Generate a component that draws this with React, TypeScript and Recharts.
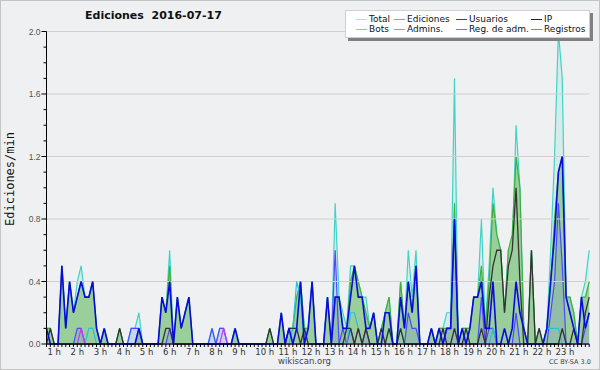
import { Area, ComposedChart, Line, ReferenceLine, XAxis, YAxis } from "recharts"

// 10-minute slots, 142 points; "1 h" label sits on the first slot
const hourLabels = [
  "1 h", "2 h", "3 h", "4 h", "5 h", "6 h", "7 h", "8 h", "9 h", "10 h", "11 h", "12 h",
  "13 h", "14 h", "15 h", "16 h", "17 h", "18 h", "19 h", "20 h", "21 h", "22 h", "23 h",
]
const yTicks = [0, 0.1, 0.2, 0.3, 0.4, 0.5, 0.6, 0.7, 0.8, 0.9, 1, 1.1, 1.2, 1.3, 1.4, 1.5, 1.6, 1.7, 1.8, 1.9, 2]
const gridValues = [0.4, 0.8, 1.2, 1.6, 2]

const total = [
  0.1, 0.1, 0, 0, 0.5, 0.1, 0.4, 0.2, 0.4, 0.5, 0.3, 0.3,
  0.4, 0.1, 0, 0.1, 0, 0, 0, 0.1, 0, 0, 0.1, 0.1,
  0.2, 0, 0, 0, 0, 0, 0.3, 0.2, 0.6, 0, 0.3, 0.1,
  0.2, 0.3, 0, 0, 0, 0, 0, 0.1, 0, 0.1, 0.1, 0,
  0, 0.1, 0, 0, 0, 0, 0, 0, 0, 0, 0.1, 0,
  0, 0.2, 0, 0.1, 0.1, 0.3, 0.4, 0.1, 0.1, 0.4, 0, 0,
  0, 0.3, 0, 0.9, 0.3, 0.2, 0.1, 0.5, 0.5, 0.4, 0.3, 0.3,
  0.1, 0.2, 0, 0.1, 0.2, 0.3, 0, 0, 0.4, 0.1, 0.6, 0.3,
  0.6, 0, 0, 0, 0.1, 0, 0.1, 0.1, 0.2, 0.2, 1.7, 0,
  0.1, 0.1, 0.1, 0.3, 0.3, 0.8, 0.1, 0.5, 1.0, 0.7, 0.6, 0.2,
  0.6, 0.6, 1.4, 1.0, 0.1, 0, 0.6, 0, 0.1, 0, 0.1, 0.6,
  1.2, 2.0, 1.7, 0.3, 0.3, 0.2, 0, 0.3, 0.4, 0.6,
]
const ediciones = [
  0.1, 0.1, 0, 0, 0.5, 0.1, 0.4, 0.2, 0.3, 0.4, 0.3, 0.3,
  0.4, 0.1, 0, 0.1, 0, 0, 0, 0.1, 0, 0, 0, 0,
  0.1, 0, 0, 0, 0, 0, 0.3, 0.2, 0.5, 0, 0.3, 0.1,
  0.2, 0.3, 0, 0, 0, 0, 0, 0, 0, 0, 0, 0,
  0, 0.1, 0, 0, 0, 0, 0, 0, 0, 0, 0.1, 0,
  0, 0.2, 0, 0.1, 0.1, 0.3, 0.4, 0.1, 0.1, 0.4, 0, 0,
  0, 0.3, 0, 0.3, 0.3, 0.1, 0.1, 0.4, 0.5, 0.4, 0.3, 0.2,
  0.1, 0.2, 0, 0.1, 0.2, 0.3, 0, 0, 0.4, 0.1, 0.4, 0.2,
  0.5, 0, 0, 0, 0.1, 0, 0.1, 0.1, 0.1, 0.1, 0.9, 0,
  0.1, 0.1, 0.1, 0.3, 0.3, 0.5, 0.1, 0.4, 0.9, 0.7, 0.6, 0.2,
  0.6, 0.7, 1.2, 1.0, 0.1, 0, 0.6, 0, 0.1, 0, 0.1, 0.4,
  0.8, 1.1, 1.2, 0.3, 0.3, 0.2, 0, 0.3, 0.3, 0.4,
]
const usuarios = [
  0.1, 0, 0, 0, 0.5, 0.1, 0.4, 0.2, 0.3, 0.4, 0.3, 0.3,
  0.4, 0.1, 0, 0.1, 0, 0, 0, 0, 0, 0, 0, 0,
  0.1, 0, 0, 0, 0, 0, 0.3, 0.2, 0.4, 0, 0.3, 0.1,
  0.2, 0.3, 0, 0, 0, 0, 0, 0, 0, 0, 0, 0,
  0, 0.1, 0, 0, 0, 0, 0, 0, 0, 0, 0, 0,
  0, 0.2, 0, 0.1, 0, 0.1, 0.4, 0, 0.1, 0.4, 0, 0,
  0, 0.3, 0, 0.3, 0.3, 0.1, 0.1, 0.3, 0.5, 0.3, 0.3, 0.1,
  0.1, 0.2, 0, 0, 0.2, 0.2, 0, 0, 0.3, 0.1, 0.4, 0.2,
  0.5, 0, 0, 0, 0.1, 0, 0.1, 0, 0.1, 0.1, 0.8, 0,
  0.1, 0, 0.1, 0.3, 0.3, 0.4, 0.1, 0.1, 0.4, 0, 0, 0.1,
  0, 0.1, 0.4, 0.2, 0.1, 0, 0, 0, 0, 0, 0.1, 0.4,
  0.7, 1.1, 1.2, 0.3, 0.2, 0.1, 0, 0.3, 0.1, 0.2,
]
const ip = [
  0, 0.1, 0, 0, 0, 0, 0, 0, 0, 0, 0, 0,
  0, 0, 0, 0, 0, 0, 0, 0.1, 0, 0, 0, 0,
  0, 0, 0, 0, 0, 0, 0, 0.1, 0.1, 0, 0, 0,
  0, 0, 0, 0, 0, 0, 0, 0, 0, 0, 0, 0,
  0, 0, 0, 0, 0, 0, 0, 0, 0, 0, 0.1, 0,
  0, 0, 0, 0.1, 0.1, 0.1, 0, 0.1, 0, 0, 0, 0,
  0, 0, 0, 0, 0, 0, 0.1, 0.1, 0, 0.1, 0, 0.1,
  0, 0, 0, 0.1, 0, 0.1, 0, 0, 0.1, 0, 0, 0,
  0, 0, 0, 0, 0, 0, 0, 0.1, 0, 0, 0.1, 0,
  0, 0.1, 0, 0, 0, 0.1, 0, 0.3, 0.5, 0.6, 0.6, 0.2,
  0.5, 0.6, 1.0, 0.4, 0, 0, 0.6, 0, 0.1, 0, 0, 0,
  0, 0, 0.1, 0, 0, 0.1, 0, 0, 0.2, 0.3,
]
const bots = [
  0, 0, 0, 0, 0, 0, 0, 0, 0, 0, 0, 0,
  0, 0, 0, 0, 0, 0, 0, 0, 0, 0, 0, 0,
  0, 0, 0, 0, 0, 0, 0, 0, 0, 0, 0, 0,
  0, 0, 0, 0, 0, 0, 0, 0, 0, 0, 0, 0,
  0, 0, 0, 0, 0, 0, 0, 0, 0, 0, 0, 0,
  0, 0, 0, 0, 0, 0, 0, 0, 0, 0, 0, 0,
  0, 0, 0, 0, 0, 0, 0, 0, 0, 0, 0, 0,
  0, 0, 0, 0, 0, 0, 0, 0, 0, 0, 0, 0,
  0, 0, 0, 0, 0, 0, 0, 0, 0, 0, 0, 0,
  0, 0, 0, 0, 0, 0, 0, 0, 0, 0, 0, 0,
  0, 0, 0, 0, 0, 0, 0, 0, 0, 0, 0, 0,
  0, 0, 0, 0, 0, 0, 0, 0, 0, 0,
]
const admins = [
  0, 0, 0, 0, 0, 0, 0, 0, 0, 0, 0, 0.1,
  0.1, 0, 0, 0, 0, 0, 0, 0, 0, 0, 0, 0,
  0, 0, 0, 0, 0, 0, 0, 0, 0, 0, 0, 0,
  0, 0, 0, 0, 0, 0, 0, 0, 0, 0, 0, 0,
  0, 0, 0, 0, 0, 0, 0, 0, 0, 0, 0, 0,
  0, 0, 0, 0, 0.1, 0.4, 0.3, 0, 0, 0, 0, 0,
  0, 0, 0, 0, 0, 0, 0, 0.2, 0.2, 0.1, 0, 0,
  0, 0, 0, 0, 0, 0.1, 0, 0, 0.1, 0, 0, 0,
  0, 0, 0, 0, 0, 0, 0, 0, 0, 0, 0, 0,
  0, 0, 0, 0, 0, 0, 0, 0, 0.1, 0, 0, 0,
  0, 0, 0, 0, 0, 0, 0, 0, 0, 0, 0.1, 0.1,
  0.1, 0.1, 0, 0, 0, 0, 0, 0, 0, 0,
]
const regAdm = [
  0, 0, 0, 0, 0, 0, 0, 0, 0, 0.1, 0, 0,
  0, 0, 0, 0, 0, 0, 0, 0, 0, 0, 0, 0,
  0, 0, 0, 0, 0, 0, 0, 0, 0, 0, 0, 0,
  0, 0, 0, 0, 0, 0, 0, 0, 0, 0, 0.1, 0,
  0, 0, 0, 0, 0, 0, 0, 0, 0, 0, 0, 0,
  0, 0, 0, 0, 0, 0, 0, 0, 0, 0, 0, 0,
  0, 0, 0, 0, 0, 0, 0, 0, 0, 0.1, 0, 0,
  0, 0, 0, 0, 0, 0, 0, 0, 0, 0, 0, 0,
  0, 0, 0, 0, 0, 0, 0, 0, 0, 0, 0, 0,
  0, 0, 0, 0, 0, 0, 0, 0, 0, 0, 0, 0,
  0, 0, 0, 0, 0, 0, 0, 0, 0, 0, 0, 0,
  0, 0, 0, 0, 0, 0, 0, 0, 0, 0,
]
const registros = [
  0, 0, 0, 0, 0, 0, 0, 0, 0.1, 0.1, 0, 0,
  0, 0, 0, 0, 0, 0, 0, 0, 0, 0, 0.1, 0.1,
  0.1, 0, 0, 0, 0, 0, 0, 0, 0.1, 0, 0, 0,
  0, 0, 0, 0, 0, 0, 0, 0.1, 0, 0.1, 0.1, 0,
  0, 0, 0, 0, 0, 0, 0, 0, 0, 0, 0, 0,
  0, 0, 0, 0, 0, 0, 0, 0, 0, 0, 0, 0,
  0, 0, 0, 0.6, 0, 0.1, 0, 0.1, 0, 0, 0, 0.1,
  0, 0, 0, 0, 0, 0, 0, 0, 0, 0, 0.2, 0.1,
  0.1, 0, 0, 0, 0, 0, 0, 0, 0.1, 0.1, 0.8, 0,
  0, 0, 0, 0, 0, 0.3, 0, 0.1, 0.1, 0, 0, 0,
  0, 0, 0.2, 0, 0, 0, 0, 0, 0, 0, 0, 0.2,
  0.4, 0.9, 0.5, 0, 0, 0, 0, 0, 0.1, 0.2,
]

const legendRows = [
  ["Total", "Ediciones", "Usuarios", "IP"],
  ["Bots", "Admins.", "Reg. de adm.", "Registros"],
]
const legendColors = [
  ["#9fe4de", "#6cc46c", "#3333ee", "#222222"],
  ["#ffaa33", "#33ccdd", "#cc44ee", "#7777ff"],
]

const data = total.map((t, i) => ({
  i,
  total: t,
  ediciones: ediciones[i],
  usuarios: usuarios[i],
  ip: ip[i],
  bots: bots[i],
  admins: admins[i],
  regAdm: regAdm[i],
  registros: registros[i],
}))

const xTicks = data.map((d) => d.i)
const font = "'DejaVu Sans', sans-serif"

function HourTick(props: { x?: number; y?: number; payload?: { value: number } }) {
  const { x = 0, y = 0, payload } = props
  const i = payload ? payload.value : 0
  const lbl = i % 6 === 0 ? hourLabels[i / 6] : null
  return (
    <g>
      <line x1={x} x2={x} y1={y} y2={y + 3} stroke="#000" />
      {lbl && (
        <text x={x + 1} y={y + 11} fontSize={8.5} fill="#333" fontFamily={font}>
          {lbl}
        </text>
      )}
    </g>
  )
}

function ValueTick(props: { x?: number; y?: number; payload?: { value: number } }) {
  const { x = 0, y = 0, payload } = props
  const v = payload ? payload.value : 0
  const major = Math.round(v * 10) % 4 === 0
  return (
    <g>
      <line x1={x - (major ? 5 : 3)} x2={x} y1={y} y2={y} stroke="#000" />
      {major && (
        <text x={x - 6} y={y + 3} textAnchor="end" fontSize={8.5} fill="#555" fontFamily="'Liberation Sans', sans-serif">
          {v.toFixed(1)}
        </text>
      )}
    </g>
  )
}

export default function App() {
  return (
    <div
      style={{
        position: "absolute",
        left: 0,
        top: 0,
        width: 600,
        height: 370,
        boxSizing: "border-box",
        border: "1px solid #c4c4c4",
        background: "#eff0f1",
        fontFamily: font,
      }}
    >
      <div style={{ position: "absolute", left: 0, top: 0 }}>
        <ComposedChart width={598} height={368} data={data} margin={{ top: 30.5, right: 9.8, bottom: 0, left: -0.5 }}>
          {gridValues.map((g) => (
            <ReferenceLine key={g} y={g} stroke="#cfcfcf" strokeWidth={1} />
          ))}
          <Area type="linear" dataKey="total" stroke="#40d4c8" strokeWidth={1.2} fill="#40d4c8" fillOpacity={0.15} dot={false} isAnimationActive={false} />
          <Area type="linear" dataKey="ediciones" stroke="#3cb03c" strokeWidth={1.2} fill="#97cc97" fillOpacity={0.95} dot={false} isAnimationActive={false} />
          <Area type="linear" dataKey="registros" stroke="#4a4aff" strokeWidth={1.2} fill="#6666ff" fillOpacity={0.15} dot={false} isAnimationActive={false} />
          <Line type="linear" dataKey="bots" stroke="#ff9933" strokeWidth={1} dot={false} isAnimationActive={false} />
          <Line type="linear" dataKey="admins" stroke="#22c4d8" strokeWidth={1.2} dot={false} isAnimationActive={false} />
          <Line type="linear" dataKey="regAdm" stroke="#cc33ff" strokeWidth={1.2} dot={false} isAnimationActive={false} />
          <Line type="linear" dataKey="ip" stroke="#333333" strokeWidth={1.3} dot={false} isAnimationActive={false} />
          <Line type="linear" dataKey="usuarios" stroke="#0a0ae0" strokeWidth={1.6} dot={false} isAnimationActive={false} />
          <XAxis
            dataKey="i"
            type="number"
            domain={[0, 141]}
            ticks={xTicks}
            interval={0}
            tick={<HourTick />}
            tickLine={false}
            tickSize={0}
            tickMargin={0}
            height={25}
            axisLine={{ stroke: "#000" }}
          />
          <YAxis
            type="number"
            domain={[0, 2]}
            ticks={yTicks}
            interval={0}
            tick={<ValueTick />}
            tickLine={false}
            tickSize={0}
            tickMargin={0}
            width={46}
            axisLine={{ stroke: "#000" }}
          />
        </ComposedChart>
      </div>

      <div style={{ position: "absolute", left: 84, top: 8, fontSize: 11, fontWeight: "bold", color: "#111", whiteSpace: "pre" }}>
        {"Ediciones  2016-07-17"}
      </div>

      <div style={{ position: "absolute", left: 2, top: 178, width: 0, height: 0 }}>
        <div
          style={{
            position: "absolute",
            left: 0,
            top: 0,
            transform: "translate(-50%, -50%) rotate(-90deg)",
            transformOrigin: "center",
            whiteSpace: "nowrap",
            fontFamily: "'DejaVu Sans Mono', monospace",
            fontSize: 12,
            color: "#111",
            marginLeft: 7,
          }}
        >
          Ediciones/min
        </div>
      </div>

      <div
        style={{
          position: "absolute",
          left: 344,
          top: 9,
          width: 245,
          height: 28,
          boxSizing: "border-box",
          background: "#fff",
          border: "1px solid #cfcfcf",
          boxShadow: "3px 3px 0 #808080",
        }}
      >
        {legendRows.map((row, r) => (
          <div key={r} style={{ position: "absolute", left: 0, top: 3 + r * 10, height: 10, width: "100%" }}>
            {row.map((name, c) => {
              const left = [10, 48, 110, 185][c]
              return (
                <div key={name} style={{ position: "absolute", left, top: 0, height: 10, whiteSpace: "nowrap" }}>
                  <svg width={11} height={10} style={{ position: "absolute", left: 0, top: 0 }}>
                    <line x1={0} x2={11} y1={5.5} y2={5.5} stroke={legendColors[r][c]} strokeWidth={1} />
                  </svg>
                  <span style={{ position: "absolute", left: 13, top: 0, fontSize: 9, color: "#111", lineHeight: "10px" }}>
                    {name}
                  </span>
                </div>
              )
            })}
          </div>
        ))}
      </div>

      <div style={{ position: "absolute", left: 277, top: 355, fontSize: 8.5, color: "#444" }}>wikiscan.org</div>
      <div style={{ position: "absolute", left: 548, top: 357, fontSize: 6.5, color: "#444" }}>CC BY-SA 3.0</div>
    </div>
  )
}
